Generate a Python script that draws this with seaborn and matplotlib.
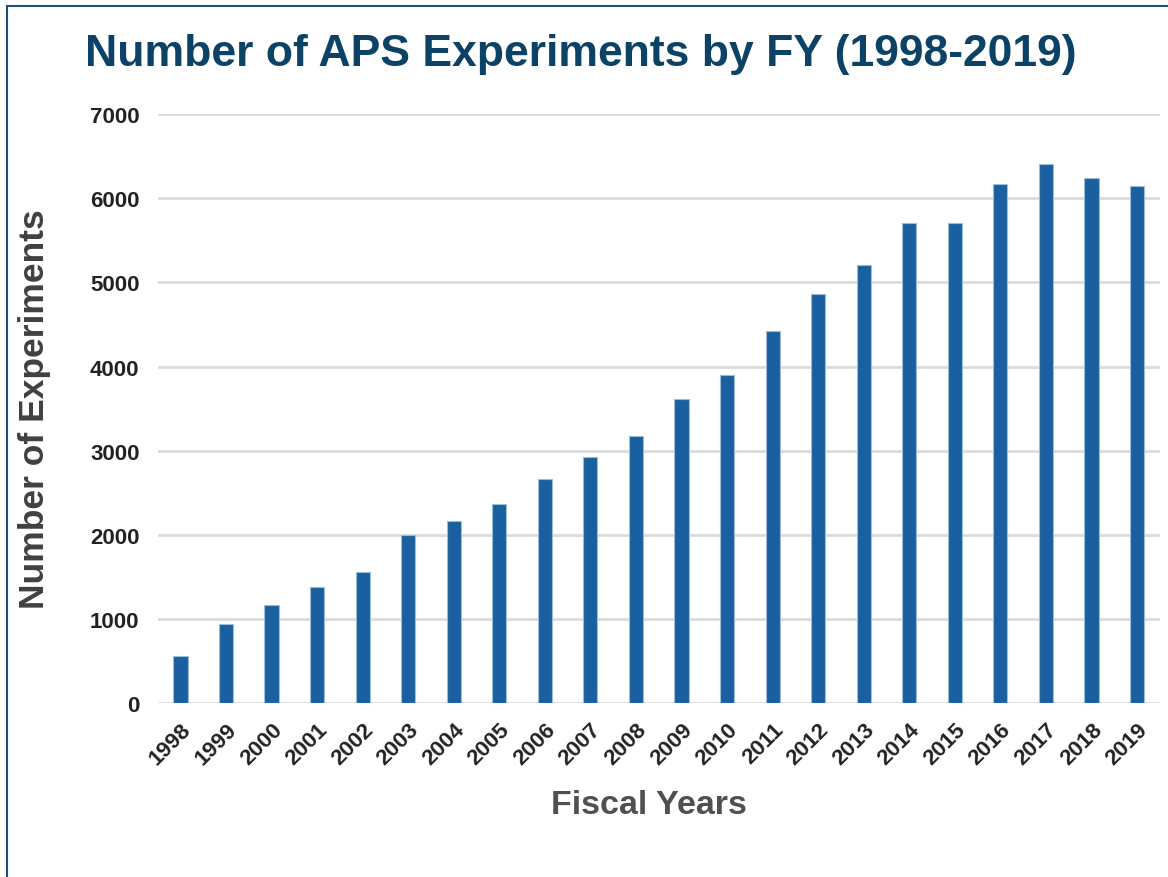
""" APS experiments per fiscal year bar chart """
import matplotlib
matplotlib.use("Agg")
import matplotlib.pyplot as plt
import matplotlib.patches as mpatches
import seaborn as sns
import pandas as pd

years = [str(y) for y in range(1998, 2020)]
experiments = [560, 940, 1165, 1380, 1560, 2000, 2165, 2365, 2665, 2925, 3175,
               3615, 3900, 4420, 4860, 5205, 5700, 5710, 6170, 6410, 6245, 6145]
yticks = [0, 1000, 2000, 3000, 4000, 5000, 6000, 7000]


def main():
    sns.set_theme(style="white")
    plt.rcParams["font.family"] = ["Liberation Sans", "DejaVu Sans"]

    df = pd.DataFrame({"year": years, "count": experiments})

    fig = plt.figure(figsize=(11.68, 8.78), dpi=100)
    ax = fig.add_axes([0.135, 0.198, 0.858, 0.671])

    sns.barplot(data=df, x="year", y="count", ax=ax, color="#1a60a0",
                saturation=1, width=0.31, edgecolor="#9dbcd8", linewidth=0.8, zorder=3)

    ax.set_ylim(0, 7000)
    ax.set_xlim(-0.5, len(years) - 0.5)
    ax.set_yticks(yticks)
    ax.yaxis.grid(True, color="#dcdcdc", linewidth=2, zorder=0)
    ax.xaxis.grid(False)
    for s in ax.spines.values():
        s.set_visible(False)
    ax.tick_params(axis="both", length=0, pad=11)
    ax.tick_params(axis="y", pad=13)
    for lbl in ax.get_yticklabels():
        lbl.set_fontweight("bold")
        lbl.set_fontsize(16)
        lbl.set_color("#222222")
    for lbl in ax.get_xticklabels():
        lbl.set_fontweight("bold")
        lbl.set_fontsize(16)
        lbl.set_color("#222222")
        lbl.set_rotation(45)
        lbl.set_ha("right")
        lbl.set_rotation_mode("anchor")

    ax.set_xlabel("Fiscal Years", fontsize=24.5, fontweight="bold", color="#505050", labelpad=20)
    ax.xaxis.set_label_coords(0.49, -0.145)
    ax.set_ylabel("Number of Experiments", fontsize=25.5, fontweight="bold", color="#404040", labelpad=28)

    fig.text(0.497, 0.938, "Number of APS Experiments by FY (1998-2019)", ha="center", va="center",
             fontsize=32, fontweight="bold", color="#0b4266")

    # dark frame around the chart area
    frame = mpatches.Rectangle((7 / 1168, -0.05), 1.2, 1 - 7 / 878 + 0.05, transform=fig.transFigure,
                               fill=False, edgecolor="#1f4e79", linewidth=1.5)
    fig.patches.append(frame)

    fig.savefig("out.png", dpi=100)
    plt.close(fig)


if __name__ == "__main__":
    main()
